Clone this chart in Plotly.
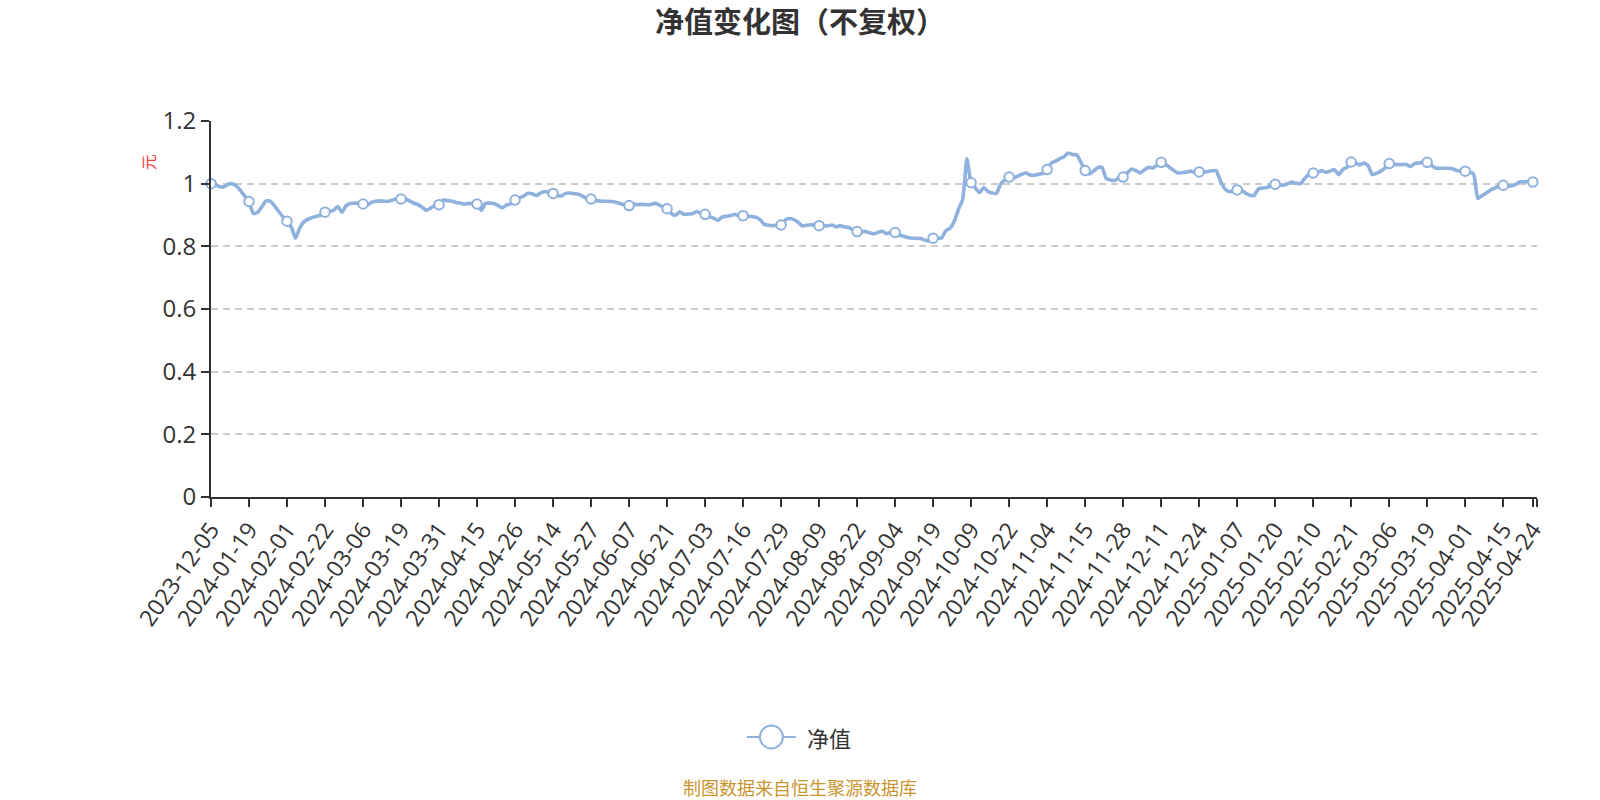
import plotly.graph_objects as go

# ---- data ----
tick_labels = [
    "2023-12-05", "2024-01-19", "2024-02-01", "2024-02-22", "2024-03-06", "2024-03-19",
    "2024-03-31", "2024-04-15", "2024-04-26", "2024-05-14", "2024-05-27", "2024-06-07",
    "2024-06-21", "2024-07-03", "2024-07-16", "2024-07-29", "2024-08-09", "2024-08-22",
    "2024-09-04", "2024-09-19", "2024-10-09", "2024-10-22", "2024-11-04", "2024-11-15",
    "2024-11-28", "2024-12-11", "2024-12-24", "2025-01-07", "2025-01-20", "2025-02-10",
    "2025-02-21", "2025-03-06", "2025-03-19", "2025-04-01", "2025-04-15", "2025-04-24",
]
tick_positions = [0, 9, 18, 27, 36, 45, 54, 63, 72, 81, 90, 99, 108, 117, 126, 135, 144, 153,
                  162, 171, 180, 189, 198, 207, 216, 225, 234, 243, 252, 261, 270, 279, 288,
                  297, 306, 313]
axis_end = 314

nav = [
    1.000, 0.996, 0.991, 0.989, 0.998, 1.000, 0.993, 0.978, 0.960, 0.943,
    0.905, 0.908, 0.925, 0.945, 0.944, 0.930, 0.912, 0.895, 0.880, 0.862,
    0.826, 0.858, 0.878, 0.887, 0.892, 0.896, 0.900, 0.909, 0.912, 0.915,
    0.927, 0.909, 0.930, 0.937, 0.938, 0.937, 0.935, 0.932, 0.940, 0.944,
    0.945, 0.944, 0.944, 0.948, 0.952, 0.951, 0.951, 0.945, 0.938, 0.933,
    0.925, 0.915, 0.922, 0.930, 0.933, 0.948, 0.946, 0.945, 0.940, 0.938,
    0.935, 0.937, 0.936, 0.935, 0.915, 0.937, 0.938, 0.937, 0.930, 0.923,
    0.932, 0.935, 0.948, 0.955, 0.960, 0.969, 0.968, 0.962, 0.970, 0.975,
    0.972, 0.969, 0.962, 0.961, 0.969, 0.970, 0.968, 0.966, 0.960, 0.952,
    0.951, 0.946, 0.945, 0.944, 0.944, 0.943, 0.940, 0.936, 0.932, 0.930,
    0.935, 0.933, 0.934, 0.933, 0.933, 0.937, 0.933, 0.926, 0.920, 0.905,
    0.899, 0.910, 0.902, 0.903, 0.904, 0.911, 0.905, 0.902, 0.895, 0.890,
    0.883, 0.893, 0.896, 0.898, 0.902, 0.899, 0.898, 0.897, 0.895, 0.893,
    0.885, 0.870, 0.867, 0.866, 0.867, 0.868, 0.884, 0.889, 0.885, 0.877,
    0.865, 0.867, 0.869, 0.867, 0.866, 0.866, 0.865, 0.868, 0.862, 0.866,
    0.862, 0.860, 0.853, 0.847, 0.847, 0.847, 0.843, 0.840, 0.845, 0.848,
    0.840, 0.845, 0.844, 0.836, 0.832, 0.828, 0.826, 0.826, 0.825, 0.820,
    0.817, 0.826, 0.826, 0.827, 0.850, 0.858, 0.880, 0.918, 0.950, 1.079,
    1.003, 0.987, 0.972, 0.988, 0.975, 0.970, 0.969, 0.999, 1.012, 1.021,
    1.018, 1.024, 1.030, 1.034, 1.028, 1.027, 1.030, 1.033, 1.045, 1.066,
    1.072, 1.080, 1.086, 1.098, 1.093, 1.092, 1.068, 1.042, 1.031, 1.040,
    1.052, 1.052, 1.016, 1.012, 1.010, 1.019, 1.021, 1.035, 1.047, 1.042,
    1.034, 1.044, 1.052, 1.050, 1.058, 1.068, 1.062, 1.052, 1.042, 1.034,
    1.035, 1.037, 1.040, 1.036, 1.0375, 1.036, 1.039, 1.041, 1.042, 1.010,
    0.985, 0.975, 0.976, 0.980, 0.978, 0.970, 0.963, 0.962, 0.983, 0.986,
    0.988, 0.993, 0.998, 0.996, 0.995, 1.000, 1.005, 1.001, 1.000, 1.017,
    1.030, 1.034, 1.035, 1.042, 1.036, 1.040, 1.045, 1.029, 1.045, 1.052,
    1.069, 1.066, 1.060, 1.066, 1.058, 1.029, 1.033, 1.040, 1.050, 1.064,
    1.062, 1.061, 1.061, 1.062, 1.054, 1.064, 1.066, 1.069, 1.068, 1.058,
    1.050, 1.049, 1.049, 1.049, 1.048, 1.042, 1.040, 1.040, 1.038, 1.030,
    0.953, 0.962, 0.970, 0.980, 0.986, 0.992, 0.995, 0.992, 0.993, 0.998,
    1.006, 1.006, 1.007, 1.005,
]
y_ticks = [0, 0.2, 0.4, 0.6, 0.8, 1.0, 1.2]
y_tick_text = ["0", "0.2", "0.4", "0.6", "0.8", "1", "1.2"]

series_name = "净值"
title_text = "净值变化图（不复权）"
unit_text = "元"
source_text = "制图数据来自恒生聚源数据库"

# ---- style ----
LINE_COLOR = "#8eb1de"
TEXT_COLOR = "#333333"
FONT = "Open Sans, Noto Sans CJK SC, sans-serif"
CJK = "Noto Sans CJK SC, sans-serif"

W, H = 1600, 800
PL, PR, PT, PB = 211, 1536.7, 120.7, 496.7   # plot-area pixel edges
pw, ph = PR - PL, PB - PT


def px_to_paper_x(px):
    return (px - PL) / pw


def px_to_paper_y(py):
    return (PB - py) / ph


x_idx = list(range(len(nav)))
mark_idx = tick_positions
mark_vals = [nav[i] for i in mark_idx]

fig = go.Figure()
fig.add_trace(go.Scatter(
    x=x_idx, y=nav, mode="lines", name=series_name,
    line=dict(color=LINE_COLOR, width=3.6, shape="spline", smoothing=0.5),
    showlegend=False, hoverinfo="skip",
))
fig.add_trace(go.Scatter(
    x=mark_idx, y=mark_vals, mode="markers", name=series_name,
    marker=dict(size=9.5, color="white", line=dict(color=LINE_COLOR, width=2)),
    showlegend=False, cliponaxis=False,
))

tickvals = tick_positions + [axis_end]
ticktext = tick_labels + [""]

fig.update_layout(
    width=W, height=H,
    margin=dict(l=PL, r=W - PR, t=PT, b=H - PB, pad=0),
    paper_bgcolor="white", plot_bgcolor="white",
    font=dict(family=FONT, color=TEXT_COLOR),
    title=dict(text="<b>" + title_text + "</b>", x=0.5, xref="container", xanchor="center",
               y=1 - 23 / H, yref="container", yanchor="middle",
               font=dict(family=CJK, size=29, color=TEXT_COLOR)),
    xaxis=dict(
        range=[0, axis_end], tickmode="array", tickvals=tickvals, ticktext=ticktext,
        tickangle=-55, tickfont=dict(size=23, color=TEXT_COLOR, family=FONT),
        showgrid=False, zeroline=False,
        showline=True, linecolor=TEXT_COLOR, linewidth=2,
        ticks="outside", ticklen=8, tickwidth=1.5, tickcolor=TEXT_COLOR,
    ),
    yaxis=dict(
        range=[0, 1.2], tickmode="array", tickvals=y_ticks, ticktext=y_tick_text,
        tickfont=dict(size=24, color=TEXT_COLOR, family=FONT),
        showgrid=True, gridcolor="#cccccc", gridwidth=1.5, griddash="7px,5px",
        zeroline=False,
        showline=True, linecolor=TEXT_COLOR, linewidth=2,
        ticks="outside", ticklen=8, tickwidth=1.5, tickcolor=TEXT_COLOR,
    ),
    hovermode=False,
)

# y-axis unit label (rotated)
fig.add_annotation(text=unit_text, x=px_to_paper_x(148), y=px_to_paper_y(162),
                   xref="paper", yref="paper", showarrow=False, textangle=-90,
                   font=dict(family=CJK, size=16, color="#ff3b3b"),
                   xanchor="center", yanchor="middle")

# legend (drawn manually)
leg_y = px_to_paper_y(736.7)
fig.add_shape(type="line", xref="paper", yref="paper",
              x0=px_to_paper_x(746.7), x1=px_to_paper_x(796), y0=leg_y, y1=leg_y,
              line=dict(color=LINE_COLOR, width=2))
fig.add_shape(type="circle", xref="paper", yref="paper",
              xsizemode="pixel", ysizemode="pixel",
              xanchor=px_to_paper_x(771.3), yanchor=leg_y,
              x0=-11.5, x1=11.5, y0=-11.5, y1=11.5,
              line=dict(color=LINE_COLOR, width=2), fillcolor="white")
fig.add_annotation(text=series_name, x=px_to_paper_x(805), y=leg_y,
                   xref="paper", yref="paper", showarrow=False,
                   font=dict(family=CJK, size=22, color=TEXT_COLOR),
                   xanchor="left", yanchor="middle")

# source footer
fig.add_annotation(text=source_text, x=px_to_paper_x(800), y=px_to_paper_y(787),
                   xref="paper", yref="paper", showarrow=False,
                   font=dict(family=CJK, size=18, color="#c9952f"),
                   xanchor="center", yanchor="middle")

fig.write_html(
    "out.html",
    include_plotlyjs=True,
    config={"displayModeBar": False},
    post_script="document.body.style.margin='0';document.body.style.overflow='hidden';",
)
